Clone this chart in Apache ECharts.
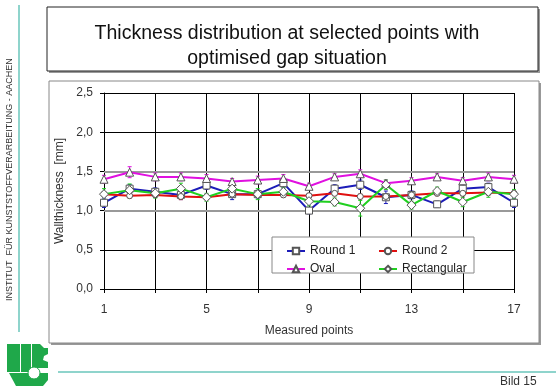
<!DOCTYPE html>
<html>
<head>
<meta charset="utf-8">
<script src="https://cdn.jsdelivr.net/npm/echarts@6/dist/echarts.min.js"></script>
<style>
  html, body { margin: 0; padding: 0; background: #fff; }
  #chart { width: 556px; height: 390px; }
</style>
</head>
<body>
<div id="chart"></div>
<script>
// measured points 1..17
const points = ["1","2","3","4","5","6","7","8","9","10","11","12","13","14","15","16","17"];

const round1 = [1.10, 1.28, 1.24, 1.20, 1.32, 1.21, 1.21, 1.35, 1.00, 1.28, 1.33, 1.17, 1.20, 1.08, 1.28, 1.30, 1.10];
const round2 = [1.21, 1.19, 1.20, 1.18, 1.17, 1.21, 1.20, 1.20, 1.19, 1.22, 1.18, 1.18, 1.20, 1.22, 1.22, 1.23, 1.22];
const oval = [1.40, 1.49, 1.43, 1.43, 1.41, 1.37, 1.39, 1.41, 1.31, 1.43, 1.47, 1.35, 1.38, 1.43, 1.38, 1.43, 1.40];
const rectangular = [1.21, 1.26, 1.22, 1.28, 1.17, 1.28, 1.21, 1.24, 1.12, 1.11, 1.03, 1.33, 1.07, 1.25, 1.11, 1.24, 1.21];

// standard deviations (error bars)
const round1Err = [0.06, 0.05, 0.05, 0.06, 0.05, 0.07, 0.05, 0.06, 0.04, 0.05, 0.06, 0.08, 0.05, 0.04, 0.05, 0.05, 0.06];
const round2Err = [0.03, 0.03, 0.03, 0.04, 0.03, 0.03, 0.03, 0.03, 0.03, 0.03, 0.03, 0.03, 0.03, 0.03, 0.03, 0.03, 0.03];
const ovalErr = [0.05, 0.07, 0.05, 0.05, 0.05, 0.04, 0.05, 0.05, 0.04, 0.04, 0.05, 0.04, 0.04, 0.04, 0.04, 0.05, 0.05];
const rectErr = [0.07, 0.08, 0.06, 0.07, 0.05, 0.06, 0.07, 0.05, 0.06, 0.05, 0.10, 0.06, 0.05, 0.05, 0.06, 0.07, 0.06];

const yTicks = [0, 0.5, 1.0, 1.5, 2.0, 2.5];

const FONT = "Liberation Sans, Arial, sans-serif";

const defs = [
  { name: "Round 1", data: round1, err: round1Err, color: "#1c1cb8", symbol: "rect", size: 7 },
  { name: "Round 2", data: round2, err: round2Err, color: "#e01010", symbol: "circle", size: 6 },
  { name: "Oval", data: oval, err: ovalErr, color: "#e010e0", symbol: "triangle", size: 8 },
  { name: "Rectangular", data: rectangular, err: rectErr, color: "#20d020", symbol: "diamond", size: 9 }
];

const chart = echarts.init(document.getElementById("chart"), null, { renderer: "canvas" });

const series = [];
defs.forEach(d => {
  series.push({
    name: d.name,
    type: "line",
    data: d.data,
    symbol: d.symbol,
    symbolSize: d.size,
    showAllSymbol: true,
    lineStyle: { color: d.color, width: 2 },
    itemStyle: { color: "#fff", borderColor: "#555", borderWidth: 1 },
    z: 3,
    animation: false
  });
  series.push({
    name: d.name + " err",
    type: "custom",
    data: d.data.map((v, i) => [i, v, v - d.err[i], v + d.err[i]]),
    renderItem: (params, api) => {
      const x = api.value(0);
      const lo = api.coord([x, api.value(2)]);
      const hi = api.coord([x, api.value(3)]);
      const w = 2;
      const st = { stroke: d.color, lineWidth: 1 };
      return {
        type: "group",
        children: [
          { type: "line", shape: { x1: lo[0], y1: lo[1], x2: hi[0], y2: hi[1] }, style: st },
          { type: "line", shape: { x1: lo[0] - w, y1: lo[1], x2: lo[0] + w, y2: lo[1] }, style: st },
          { type: "line", shape: { x1: hi[0] - w, y1: hi[1], x2: hi[0] + w, y2: hi[1] }, style: st }
        ]
      };
    },
    z: 2,
    silent: true,
    animation: false
  });
});

// thick grey reference lines at 1.0 and 1.5
series[0].markLine = {
  silent: true,
  symbol: "none",
  label: { show: false },
  lineStyle: { color: "#999", width: 2, type: "solid" },
  data: [{ yAxis: 1.0 }, { yAxis: 1.5 }],
  z: 1
};

const legendCommon = {
  orient: "vertical",
  itemGap: 6,
  itemWidth: 18,
  itemHeight: 8,
  textStyle: { fontFamily: FONT, fontSize: 12, color: "#222" }
};

const option = {
  backgroundColor: "#fff",
  animation: false,
  grid: { left: 104, right: 42, top: 93, bottom: 101 },
  legend: [
    Object.assign({ data: ["Round 1", "Oval"], left: 281, top: 240 }, legendCommon),
    Object.assign({ data: ["Round 2", "Rectangular"], left: 373, top: 240 }, legendCommon)
  ],
  xAxis: {
    type: "category",
    data: points,
    boundaryGap: false,
    name: "Measured points",
    nameLocation: "middle",
    nameGap: 36,
    nameTextStyle: { fontFamily: FONT, fontSize: 12, color: "#333" },
    axisLine: { lineStyle: { color: "#000", width: 1 } },
    axisTick: { show: true, inside: false, length: 4, interval: i => i % 2 === 0, lineStyle: { color: "#000" } },
    axisLabel: { interval: i => i % 4 === 0, margin: 15, fontFamily: FONT, fontSize: 12, color: "#333" },
    splitLine: { show: true, interval: i => i % 2 === 0, lineStyle: { color: "#000", width: 1 } }
  },
  yAxis: {
    type: "value",
    min: 0,
    max: 2.5,
    interval: 0.5,
    name: "Wallthickness  [mm]",
    nameLocation: "middle",
    nameGap: 33,
    nameRotate: 90,
    nameTextStyle: { fontFamily: FONT, fontSize: 12, color: "#333" },
    axisLine: { show: true, lineStyle: { color: "#000" } },
    axisTick: { show: true, length: 4, lineStyle: { color: "#000" } },
    axisLabel: {
      margin: 11, fontFamily: FONT, fontSize: 12, color: "#333",
      formatter: v => (yTicks.includes(v) ? v.toFixed(1).replace(".", ",") : "")
    },
    splitLine: { show: true, lineStyle: { color: "#000", width: 1 } }
  },
  graphic: [
    // title box
    { type: "rect", shape: { x: 49, y: 9, width: 491, height: 64 }, style: { fill: "#999" }, z: 0 },
    { type: "rect", shape: { x: 47, y: 7, width: 491, height: 64 }, style: { fill: "#fff", stroke: "#222", lineWidth: 1 }, z: 1 },
    {
      type: "text", x: 287, y: 21, z: 2,
      style: {
        text: "Thickness distribution at selected points with\noptimised gap situation",
        fontFamily: FONT, fontSize: 19.5, fill: "#111", align: "center", lineHeight: 25
      }
    },
    // chart frame
    { type: "rect", shape: { x: 51, y: 83, width: 490, height: 262 }, style: { fill: "#999" }, z: -2 },
    { type: "rect", shape: { x: 49, y: 81, width: 490, height: 262 }, style: { fill: "#fff", stroke: "#888", lineWidth: 1 }, z: -1 },
    // legend frame
    { type: "rect", shape: { x: 272, y: 237, width: 202, height: 36 }, style: { fill: "#fff", stroke: "#888", lineWidth: 1 }, z: 4 },
    // left vertical teal line and institute text
    { type: "line", shape: { x1: 19, y1: 5, x2: 19, y2: 332 }, style: { stroke: "#8fd4cc", lineWidth: 2 } },
    {
      type: "text", x: 10, y: 301, rotation: Math.PI / 2, z: 2,
      style: { text: "INSTITUT  FÜR KUNSTSTOFFVERARBEITUNG - AACHEN", fontFamily: FONT, fontSize: 9, fill: "#333", align: "left", verticalAlign: "middle" }
    },
    // bottom teal line and page label
    { type: "line", shape: { x1: 58, y1: 372, x2: 556, y2: 372 }, style: { stroke: "#8fd4cc", lineWidth: 2 } },
    { type: "text", x: 500, y: 376, style: { text: "Bild 15", fontFamily: FONT, fontSize: 12, fill: "#333" } },
    // logo
    { type: "rect", shape: { x: 7, y: 344, width: 13, height: 28 }, style: { fill: "#1fa84a" } },
    { type: "rect", shape: { x: 21, y: 344, width: 10, height: 28 }, style: { fill: "#1fa84a" } },
    {
      type: "polygon",
      shape: { points: [[32, 344], [40, 344], [44, 348], [48, 348], [48, 354], [44, 356], [43, 360], [48, 362], [48, 368], [32, 368]] },
      style: { fill: "#1fa84a" }
    },
    {
      type: "polygon",
      shape: { points: [[9, 373], [48, 373], [48, 380], [43, 386], [16, 386]] },
      style: { fill: "#1fa84a" }
    },
    { type: "circle", shape: { cx: 34, cy: 373, r: 6 }, style: { fill: "#fff", stroke: "#1fa84a", lineWidth: 1 } }
  ],
  series: series
};

chart.setOption(option);
</script>
</body>
</html>
